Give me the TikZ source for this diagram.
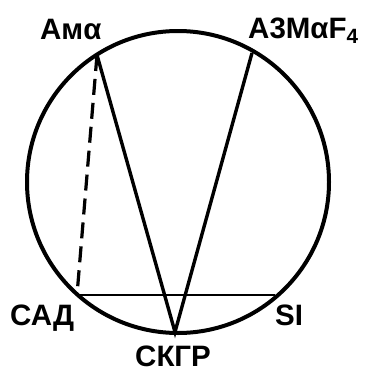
\documentclass[tikz,border=0pt]{standalone}
\usepackage{fontspec}
\setmainfont{Liberation Sans}
\begin{document}
\begin{tikzpicture}[x=1pt,y=-1pt,
  lbl/.style={font=\fontsize{29.5}{30}\selectfont\bfseries, inner sep=0pt, anchor=base west},
  rim/.style={line width=4pt},
  chord/.style={line width=3.4pt},
  flat/.style={line width=2.8pt},
  dashchord/.style={line width=3.2pt, dash pattern=on 16pt off 8pt}]
\useasboundingbox (0,0) rectangle (371,372);
\coordinate (O) at (178,182);
\draw[rim] (O) circle (151);
\coordinate (pama) at (97,55);
\coordinate (pazm) at (252,53);
\coordinate (pskgr) at (175,332);
\coordinate (pcad) at (77,295);
\coordinate (psi) at (275,295);
\draw[chord] (pama) -- (pskgr) -- (pazm);
\draw[flat] (pcad) -- (psi);
\draw[dashchord] (pama) -- (pcad);
\node[lbl] (ama) at (40,39) {Амα};
\node[lbl] (azm) at (248,38) {А3МαF\textsubscript{4}};
\node[lbl] (cad) at (10,325) {САД};
\node[lbl] (si) at (275,325) {SI};
\node[lbl] (skgr) at (135,366) {СКГР};
\end{tikzpicture}
\end{document}
